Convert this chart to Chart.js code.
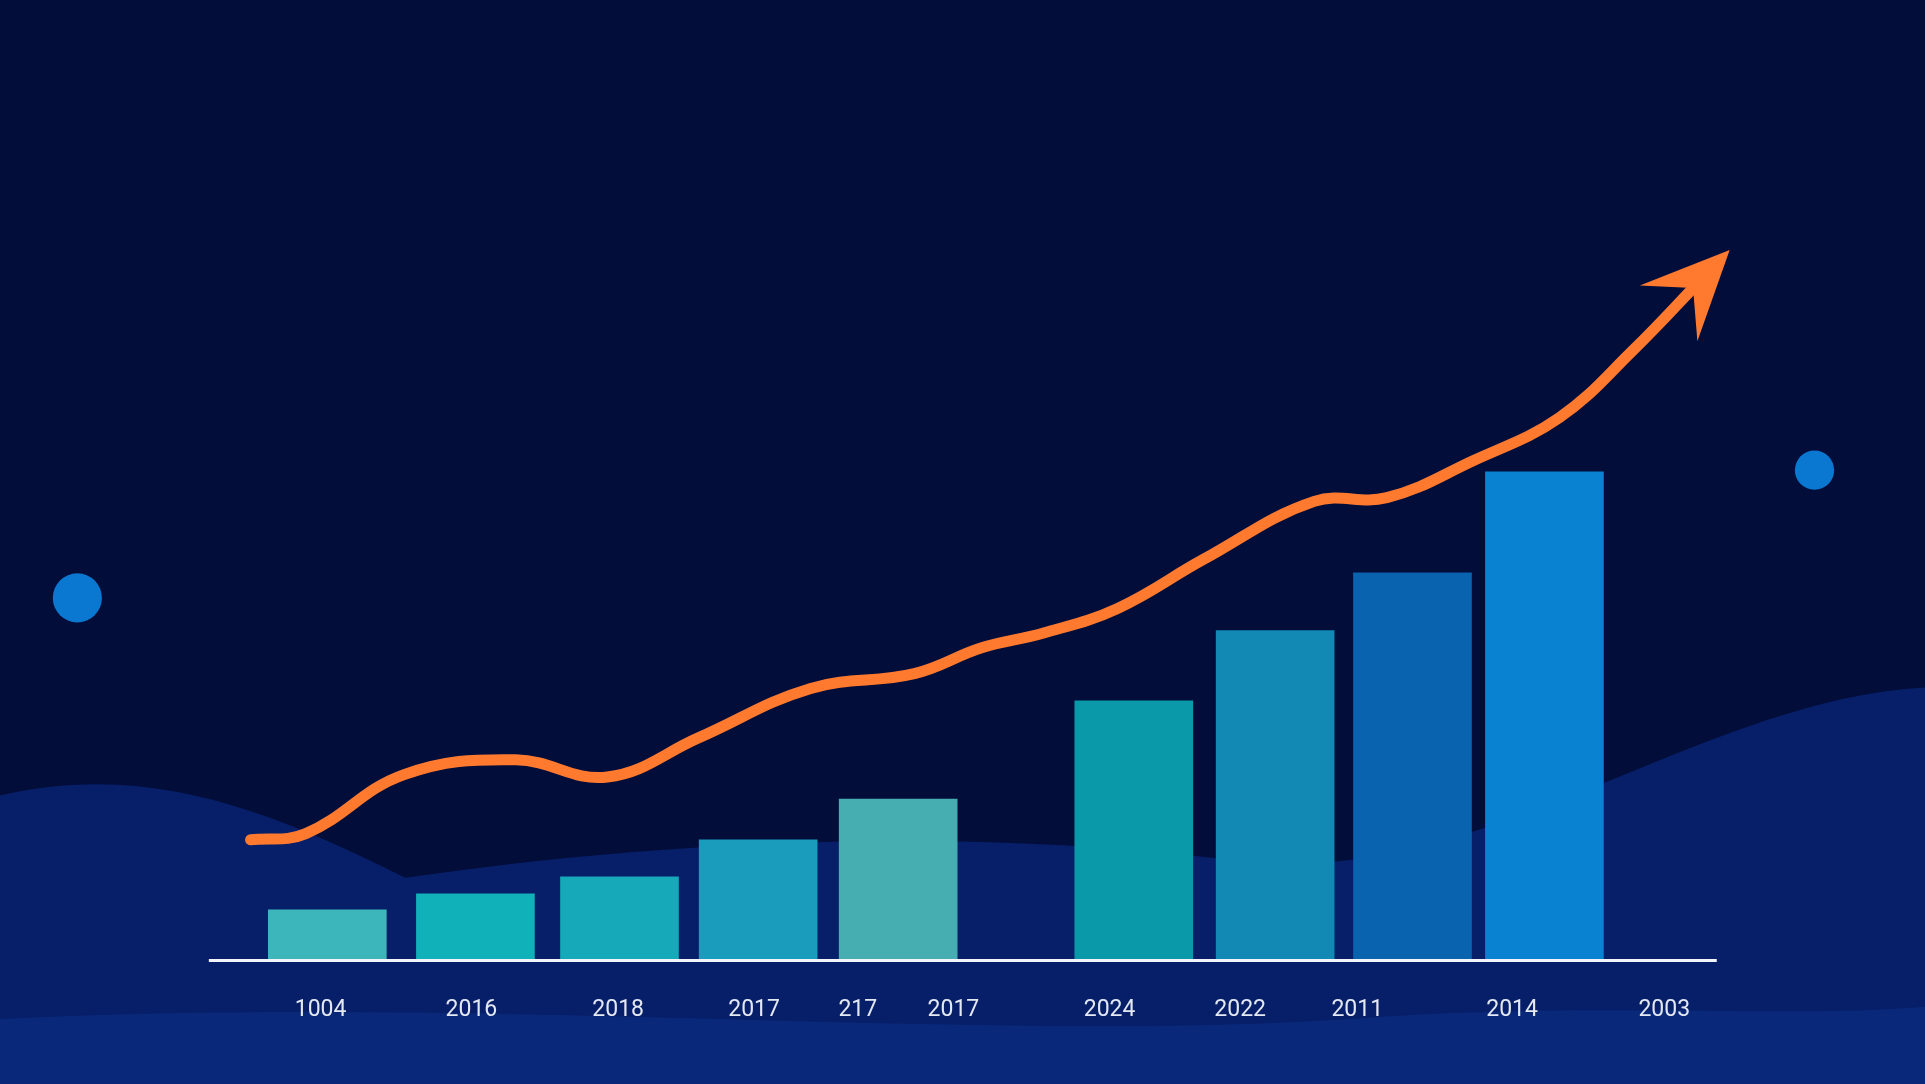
<!DOCTYPE html>
<html>
<head>
<meta charset="utf-8">
<script src="https://cdn.jsdelivr.net/npm/chart.js@4"></script>
<style>
  html, body { margin: 0; padding: 0; background: #020d3a; overflow: hidden; }
  #wrap { width: 1925px; height: 1084px; }
</style>
</head>
<body>
<div id="wrap"><canvas id="growthChart"></canvas></div>
<script>
// Tick labels as printed under the axis, and where they sit (in slot units)
const labels = ["1004", "2016", "2018", "2017", "217", "2017", "2024", "2022", "2011", "2014", "2003"];
const labelPos = [-0.05, 1.07, 2.16, 3.17, 3.94, 4.65, 5.81, 6.78, 7.65, 8.80, 9.93];
// Bars: centre position (slot units) and height
const barPos = [0, 1.10, 2.17, 3.20, 4.24, 5.99, 7.04, 8.06, 9.04];
const barValues = [41, 54, 68, 98, 131, 211, 268, 315, 397];
const barColors = ["#3cb6bb", "#10b1b9", "#15a9ba", "#1a9cbd", "#46aeb0",
                   "#0a99a8", "#1289b5", "#0a63ae", "#0a82d2"];
// Trend line, same units
const trendX = [-0.57, -0.16, 0.57, 1.40, 2.08, 2.76, 3.59, 4.36, 4.86, 5.32, 5.87, 6.51, 7.33, 7.87, 8.51, 9.15, 9.70, 10.22];
const trendY = [98, 103, 151, 163, 149, 181, 221, 233, 254, 266, 286, 326, 373, 376, 406, 441, 496, 555];

const S = 1925 / 1568; // reference display -> page scale

// Background waves, dots, baseline and arrow head
const backdrop = {
  id: "backdrop",
  beforeDraw(chart) {
    const c = chart.ctx, w = chart.width, h = chart.height;
    c.save();
    c.fillStyle = "#020d3a";
    c.fillRect(0, 0, w, h);
    c.fillStyle = "#071f68";
    c.beginPath();
    c.moveTo(0, 648 * S);
    c.bezierCurveTo(120 * S, 620 * S, 220 * S, 660 * S, 330 * S, 715 * S);
    c.bezierCurveTo(500 * S, 690 * S, 750 * S, 670 * S, 1000 * S, 700 * S);
    c.bezierCurveTo(1200 * S, 730 * S, 1380 * S, 570 * S, 1568 * S, 560 * S);
    c.lineTo(w, h); c.lineTo(0, h); c.closePath(); c.fill();
    c.fillStyle = "#0a287a";
    c.beginPath();
    c.moveTo(0, 830 * S);
    c.bezierCurveTo(400 * S, 810 * S, 800 * S, 850 * S, 1100 * S, 830 * S);
    c.bezierCurveTo(1300 * S, 815 * S, 1450 * S, 830 * S, 1568 * S, 820 * S);
    c.lineTo(w, h); c.lineTo(0, h); c.closePath(); c.fill();
    c.fillStyle = "#0a78d0";
    c.beginPath(); c.arc(63 * S, 487 * S, 20 * S, 0, Math.PI * 2); c.fill();
    c.beginPath(); c.arc(1478 * S, 383 * S, 16 * S, 0, Math.PI * 2); c.fill();
    c.restore();
  },
  afterDatasetsDraw(chart) {
    const c = chart.ctx;
    const x = chart.scales.x, y = chart.scales.y;
    c.save();
    c.strokeStyle = "#f2f4fa";
    c.lineWidth = 3;
    c.beginPath();
    c.moveTo(x.getPixelForValue(-0.88), y.getPixelForValue(0));
    c.lineTo(x.getPixelForValue(10.32), y.getPixelForValue(0));
    c.stroke();
    const n = trendX.length;
    const x1 = x.getPixelForValue(trendX[n - 2]), y1 = y.getPixelForValue(trendY[n - 2]);
    const x2 = x.getPixelForValue(trendX[n - 1]), y2 = y.getPixelForValue(trendY[n - 1]);
    const a = Math.atan2(y2 - y1, x2 - x1);
    const len = 88, wid = 40;
    const tx = x2 + Math.cos(a) * 38, ty = y2 + Math.sin(a) * 38;
    c.fillStyle = "#ff7a2f";
    c.beginPath();
    c.moveTo(tx, ty);
    c.lineTo(tx - Math.cos(a) * len + Math.sin(a) * wid, ty - Math.sin(a) * len - Math.cos(a) * wid);
    c.lineTo(tx - Math.cos(a) * len * 0.6, ty - Math.sin(a) * len * 0.6);
    c.lineTo(tx - Math.cos(a) * len - Math.sin(a) * wid, ty - Math.sin(a) * len + Math.cos(a) * wid);
    c.closePath();
    c.fill();
    c.restore();
  }
};

new Chart(document.getElementById("growthChart").getContext("2d"), {
  data: {
    datasets: [
      {
        type: "line",
        data: trendX.map((v, i) => ({ x: v, y: trendY[i] })),
        borderColor: "#ff7a2f",
        borderWidth: 11,
        borderCapStyle: "round",
        tension: 0.4,
        pointRadius: 0,
        clip: false,
        order: 0,
      },
      {
        type: "bar",
        data: barPos.map((v, i) => ({ x: v, y: barValues[i] })),
        backgroundColor: barColors,
        barThickness: 118,
        order: 1,
      },
    ],
  },
  options: {
    responsive: true,
    maintainAspectRatio: false,
    animation: false,
    layout: { padding: { left: 260, right: 184, top: 222, bottom: 32 } },
    plugins: { legend: { display: false }, tooltip: { enabled: false } },
    scales: {
      x: {
        type: "linear",
        min: -0.5,
        max: 10.5,
        offset: false,
        grid: { display: false },
        border: { display: false },
        afterBuildTicks(scale) {
          scale.ticks = labelPos.map(v => ({ value: v }));
        },
        ticks: {
          color: "#e3e8f3",
          font: { family: "Roboto", size: 23 },
          padding: 28,
          maxRotation: 0,
          autoSkip: false,
          callback: (v, i) => labels[i],
        },
      },
      y: { display: false, min: 0, max: 600 },
    },
  },
  plugins: [backdrop],
});
</script>
</body>
</html>
